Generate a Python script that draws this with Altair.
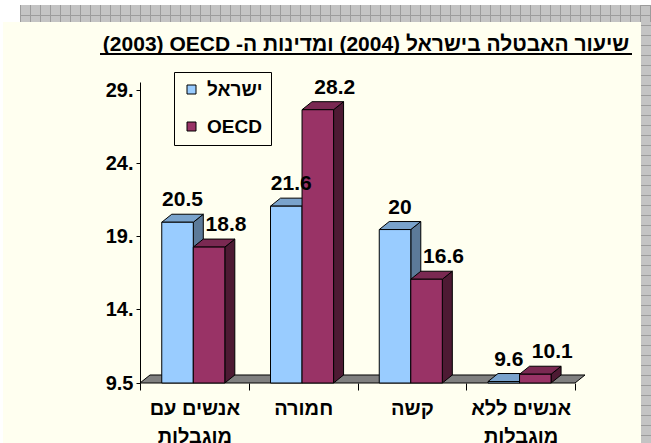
import json
import altair as alt
import pandas as pd

# ---------------- data ----------------
categories = ["אנשים עם מוגבלות", "חמורה", "קשה", "אנשים ללא מוגבלות"]
category_lines = [["אנשים עם", "מוגבלות"], ["חמורה"], ["קשה"], ["אנשים ללא", "מוגבלות"]]
series_names = ["ישראל", "OECD"]
israel_values = [20.5, 21.6, 20.0, 9.6]
oecd_values = [18.8, 28.2, 16.6, 10.1]
y_tick_values = [29, 24, 19, 14]
base_value = 9.5
title_text = "שיעור האבטלה בישראל (2004) ומדינות ה- OECD (2003)"

# ---------------- style ----------------
FONT = "Liberation Sans, Arial, DejaVu Sans, sans-serif"
CREAM = "#FFFFF0"
front_colors = ["#99CCFF", "#993366"]
top_colors = ["#7AA3CC", "#7A2952"]
side_colors = ["#5C7A99", "#4D1A33"]
label_dx = [0, 12]

PX_Y = 14.6      # pixels per value unit
PX_X = 108.75    # pixels per category band
DX = 10 / PX_X   # 3-D depth, horizontal
DY = 8 / PX_Y    # 3-D depth, vertical
BAR_PAD = 0.2
BAR_W = 0.29

y_min = base_value - DY
y_max = max(y_tick_values) + DY
x_max = len(categories) + DX
W = round(x_max * PX_X)
H = round((y_max - y_min) * PX_Y)
LEFT, TOP = 140, 82
CANVAS_W, CANVAS_H = 651, 443

# ---------------- derived tables ----------------
values_by_series = [israel_values, oecd_values]
front_rows, top_rows, side_rows, label_rows = [], [], [], []
for s, (name, vals) in enumerate(zip(series_names, values_by_series)):
    for i, (cat, v) in enumerate(zip(categories, vals)):
        x0 = i + BAR_PAD + s * BAR_W
        x1 = x0 + BAR_W
        bid = f"{s}-{i}"
        front_rows.append(dict(series=name, category=cat, value=v, x0=x0, x1=x1, yt=v - DY, yb=y_min))
        top_rows += [dict(series=name, id=bid, yy=v - DY, xa=x0, xb=x1),
                     dict(series=name, id=bid, yy=v, xa=x0 + DX, xb=x1 + DX)]
        side_rows += [dict(series=name, id=bid, xx=x1, ya=v - DY, yb=y_min),
                      dict(series=name, id=bid, xx=x1 + DX, ya=v, yb=base_value)]
        label_rows.append(dict(series=name, value=v, lx=(x0 + x1) / 2 + DX / 2, text=f"{v:g}"))

front_df = pd.DataFrame(front_rows)
top_df = pd.DataFrame(top_rows)
side_df = pd.DataFrame(side_rows)
label_df = pd.DataFrame(label_rows)
floor_df = pd.DataFrame([dict(yy=y_min, xa=0, xb=len(categories)),
                         dict(yy=base_value, xa=DX, xb=x_max)])

xs = alt.Scale(domain=[0, x_max], nice=False, zero=False)
ys = alt.Scale(domain=[y_min, y_max], nice=False, zero=False)

x_label_expr = " : ".join(
    f"datum.value == {i + 0.5} ? {json.dumps(lines, ensure_ascii=False)}"
    for i, lines in enumerate(category_lines)
) + " : ''"
x_axis = alt.Axis(
    values=[k / 2 for k in range(2 * len(categories) + 1)],
    labelExpr=x_label_expr,
    domain=False,
    tickSize=7,
    tickColor="black",
    tickOpacity={"condition": {"test": "datum.value % 1 != 0", "value": 0}, "value": 1},
    labelFontSize=20, labelFontWeight=700, labelFont=FONT, labelColor="black",
    labelPadding=8, labelLineHeight=28, labelOverlap=False, labelBound=False,
    labelFlush=False, grid=False, title=None, zindex=2,
)
y_axis = alt.Axis(
    values=y_tick_values + [y_min],
    labelExpr=f"datum.value < {base_value} ? '{base_value:g}' : datum.value + '.'",
    domainColor="black", tickColor="black", tickSize=4,
    labelFontSize=20, labelFontWeight=700, labelFont=FONT, labelColor="black",
    labelPadding=3, labelOverlap=False, labelFlush=False, grid=False, title=None, zindex=2,
)


def X(field, **kw):
    return alt.X(field, scale=xs, axis=x_axis, **kw)


def Y(field, **kw):
    return alt.Y(field, scale=ys, axis=y_axis, **kw)


# ---------------- decoration (sheet grid + chart area) ----------------
one = pd.DataFrame({"a": [0]})
GRID_GRAY = "#c4c4c4"
GRID_LINE = "#9c9c9c"
gray = alt.Chart(one).mark_rect(color=GRID_GRAY).encode(
    x=alt.value(20 - LEFT), x2=alt.value(CANVAS_W - LEFT),
    y=alt.value(5 - TOP), y2=alt.value(CANVAS_H - TOP))
grid_v = alt.Chart(one).mark_rule(color=GRID_LINE, strokeWidth=17, strokeDash=[1, 9]).encode(
    x=alt.value(20 - LEFT), x2=alt.value(CANVAS_W - LEFT), y=alt.value(13.5 - TOP))
grid_h = alt.Chart(one).mark_rule(color=GRID_LINE, strokeWidth=10, strokeDash=[1, 9]).encode(
    x=alt.value(646 - LEFT), y=alt.value(5 - TOP), y2=alt.value(CANVAS_H - TOP))
grid_h2 = alt.Chart(one).mark_rule(color=GRID_LINE, strokeWidth=1).encode(
    x=alt.value(20 - LEFT), x2=alt.value(CANVAS_W - LEFT), y=alt.value(15.5 - TOP))
cream = alt.Chart(one).mark_rect(color=CREAM).encode(
    x=alt.value(3 - LEFT), x2=alt.value(641 - LEFT),
    y=alt.value(22 - TOP), y2=alt.value(CANVAS_H - TOP))

rtl_title = title_text[:title_text.rfind("(")] + "\u200f" + title_text[title_text.rfind("("):]
title_df = pd.DataFrame({"t": ["\u202b" + rtl_title + "\u202c"]})
title = alt.Chart(title_df).mark_text(
    align="center", baseline="alphabetic", fontSize=21, fontWeight="bold", font=FONT, color="black"
).encode(text="t:N", x=alt.value(366 - LEFT), y=alt.value(51 - TOP))
underline = alt.Chart(one).mark_rule(color="black", strokeWidth=2).encode(
    x=alt.value(100 - LEFT), x2=alt.value(632 - LEFT), y=alt.value(54 - TOP))

# ---------------- chart layers ----------------
floor = alt.Chart(floor_df).mark_area(
    orient="horizontal", color="#808080", stroke="black", strokeWidth=1, opacity=1
).encode(y=Y("yy:Q"), x=X("xa:Q", stack=False), x2="xb:Q")

layers = [gray, grid_v, grid_h, grid_h2, cream, title, underline, floor]
for s, name in enumerate(series_names):
    layers.append(
        alt.Chart(side_df).transform_filter(alt.datum.series == name).mark_area(
            orient="vertical", color=side_colors[s], stroke="black", strokeWidth=1, opacity=1
        ).encode(x=X("xx:Q"), y=Y("ya:Q", stack=False), y2="yb:Q", detail="id:N")
    )
for s, name in enumerate(series_names):
    layers.append(
        alt.Chart(top_df).transform_filter(alt.datum.series == name).mark_area(
            orient="horizontal", color=top_colors[s], stroke="black", strokeWidth=1, opacity=1
        ).encode(y=Y("yy:Q"), x=X("xa:Q", stack=False), x2="xb:Q", detail="id:N")
    )
front = alt.Chart(front_df).mark_rect(stroke="black", strokeWidth=1, opacity=1).encode(
    x=X("x0:Q"),
    x2="x1:Q",
    y=Y("yt:Q"),
    y2="yb:Q",
    color=alt.Color(
        "series:N",
        scale=alt.Scale(domain=series_names, range=front_colors),
        sort=series_names,
        legend=alt.Legend(
            orient="none", legendX=34, legendY=-10, title=None,
            fillColor=CREAM, strokeColor="black", padding=8,
            symbolType="square", symbolSize=81, symbolStrokeColor="black", symbolStrokeWidth=1,
            labelFontSize=19, labelFontWeight="bold", labelFont=FONT, labelColor="black",
            labelOffset=6, rowPadding=17,
        ),
    ),
)
layers.append(front)
for s, name in enumerate(series_names):
    layers.append(
        alt.Chart(label_df).transform_filter(alt.datum.series == name).mark_text(
            align="center", baseline="alphabetic", dx=label_dx[s], dy=-8,
            fontSize=21, fontWeight="bold", font=FONT, color="black"
        ).encode(x=X("lx:Q"), y=Y("value:Q"), text="text:N")
    )

chart = alt.layer(*layers).properties(
    width=W, height=H,
    autosize=alt.AutoSizeParams(type="none"),
    padding={"left": LEFT, "top": TOP, "right": CANVAS_W - LEFT - W, "bottom": CANVAS_H - TOP - H},
    background="white",
).configure_view(stroke=None).configure_axis(
    labelFont=FONT, labelFontWeight=700, labelColor="black"
)

chart.save("out.html", embed_options={"renderer": "svg", "actions": False})
